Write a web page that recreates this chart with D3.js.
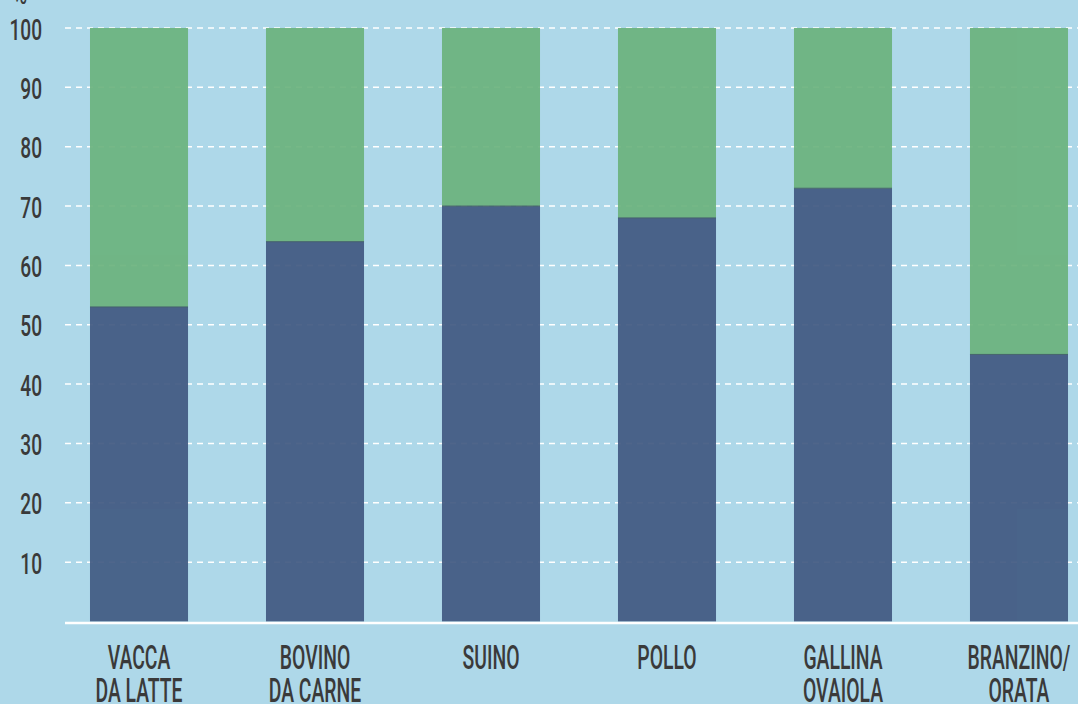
<!DOCTYPE html>
<html>
<head>
<meta charset="utf-8">
<script src="https://cdn.jsdelivr.net/npm/d3@7"></script>
<style>
  html, body { margin: 0; padding: 0; background: #aed8e9; }
  svg { display: block; }
  text { font-family: Roboto, "DejaVu Sans", sans-serif; fill: #3a3a3a; font-weight: 500; }
</style>
</head>
<body>
<svg id="chart" width="1078" height="704"></svg>
<script>
// data
const categories = [["VACCA", "DA LATTE"], ["BOVINO", "DA CARNE"], ["SUINO"], ["POLLO"], ["GALLINA", "OVAIOLA"], ["BRANZINO/", "ORATA"]];
const lowerValues = [53, 64, 70, 68, 73, 45];
const upperValues = [47, 36, 30, 32, 27, 55];
const yTicks = [10, 20, 30, 40, 50, 60, 70, 80, 90, 100];

const width = 1078;
const height = 704;
const svg = d3.select("#chart");

const keys = categories.map(c => c.join(" "));

const xscale = d3.scaleBand()
    .domain(keys)
    .range([65, 1093])
    .paddingInner(0.443)
    .paddingOuter(0.142);

const yscale = d3.scaleLinear().domain([0, 100]).range([621.5, 28]);

// grid lines (behind bars)
const grid = svg.append("g");
grid.selectAll("line").data(yTicks).join("line")
    .attr("x1", 65).attr("x2", width)
    .attr("y1", d => yscale(d)).attr("y2", d => yscale(d))
    .attr("stroke", "#fff")
    .attr("stroke-width", 1.5)
    .attr("stroke-dasharray", "6,5");

// stacked bars
const stacked = keys.map((k, i) => ({ key: k, low: lowerValues[i], high: upperValues[i] }));

const bars = svg.append("g").attr("opacity", 0.93);
bars.selectAll("rect.low").data(stacked).join("rect")
    .attr("class", "low")
    .attr("x", d => xscale(d.key))
    .attr("width", xscale.bandwidth())
    .attr("y", d => yscale(d.low))
    .attr("height", d => yscale(0) - yscale(d.low))
    .attr("fill", "#425a82");

bars.selectAll("rect.high").data(stacked).join("rect")
    .attr("class", "high")
    .attr("x", d => xscale(d.key))
    .attr("width", xscale.bandwidth())
    .attr("y", d => yscale(d.low + d.high))
    .attr("height", d => yscale(d.low) - yscale(d.low + d.high))
    .attr("fill", "#6cb37e");

// seam between the two parts
bars.selectAll("line.seam").data(stacked).join("line")
    .attr("class", "seam")
    .attr("x1", d => xscale(d.key))
    .attr("x2", d => xscale(d.key) + xscale.bandwidth())
    .attr("y1", d => yscale(d.low))
    .attr("y2", d => yscale(d.low))
    .attr("stroke", "#3d5a62")
    .attr("stroke-width", 1);

// baseline
svg.append("line")
    .attr("x1", 65).attr("x2", width)
    .attr("y1", yscale(0) + 1.5).attr("y2", yscale(0) + 1.5)
    .attr("stroke", "#fff")
    .attr("stroke-width", 2.5);

// y tick labels
svg.append("g").selectAll("text").data(yTicks).join("text")
    .attr("transform", d => `translate(42,${yscale(d) + 11.5}) scale(0.66,1)`)
    .attr("text-anchor", "end")
    .style("font-size", "29px")
    .text(d => d);

// cut-off unit label at top
svg.append("text")
    .attr("transform", "translate(20,4) scale(0.66,1)")
    .attr("text-anchor", "middle")
    .style("font-size", "29px")
    .text("%");

// category labels
const labels = svg.append("g").selectAll("text").data(categories).join("text")
    .attr("transform", (d, i) => `translate(${xscale(keys[i]) + xscale.bandwidth() / 2},669) scale(0.57,1)`)
    .attr("text-anchor", "middle")
    .style("font-size", "34px");

labels.selectAll("tspan").data(d => d).join("tspan")
    .attr("x", 0)
    .attr("dy", (d, i) => i === 0 ? 0 : 33)
    .text(d => d);
</script>
</body>
</html>
